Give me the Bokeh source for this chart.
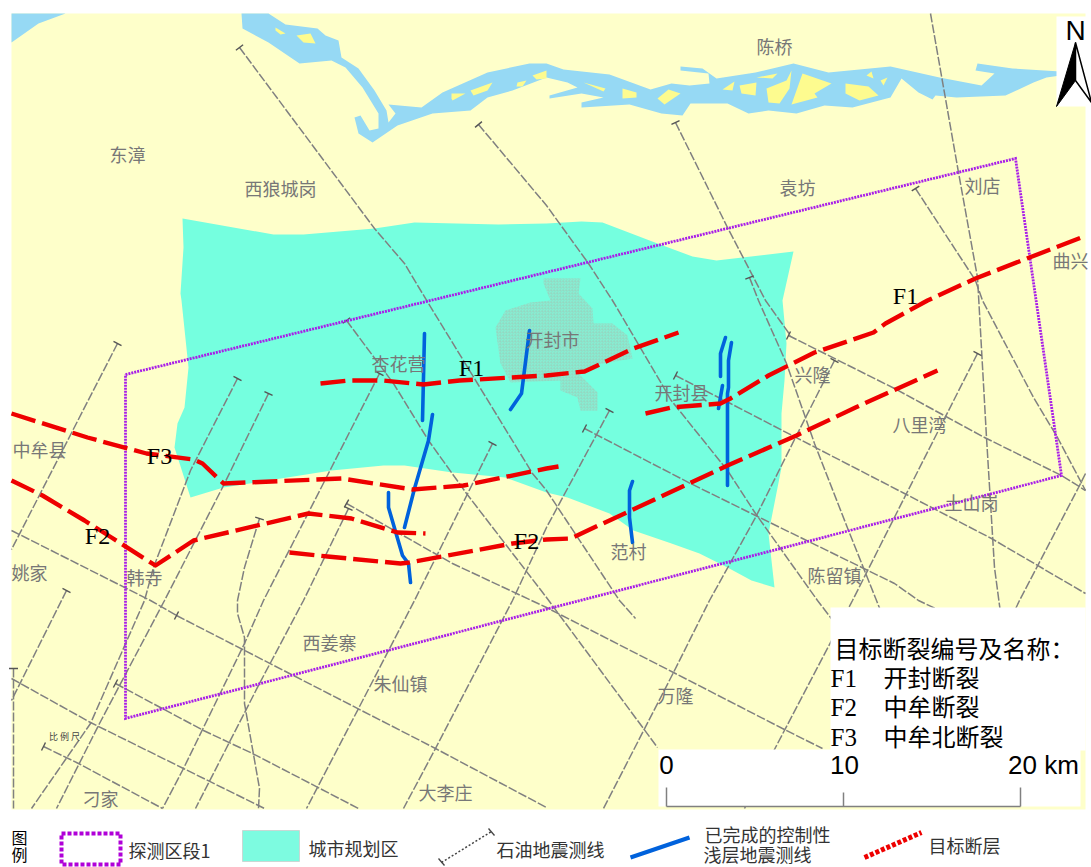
from bokeh.plotting import figure
from bokeh.models import Range1d
from bokeh.core.properties import value
from bokeh.embed import file_html
from bokeh.resources import INLINE
import math

W, H = 1091, 867

LAND = "#feffca"; WATER = "#96d9f4"; ISLE = "#fdfb8f"; CITY = "#75ffdf"
STIP = "#86eed3"; GREY = "#808080"; RED = "#ee0000"; BLUE = "#0062dc"; PURPLE = "#a81ee8"
CJK = value("Noto Sans CJK SC")

river = [(241,13),(268,13),(285,24),(317,28),(325,35),(338,40),(341,57),(358,68),(374,90),(386,110),(388,122),(395,113),(388,104),(421,107),(442,92),(487,72),(529,63),(546,63),(563,69),(609,74),(650,89),(671,83),(689,85),(709,83),(708,73),(680,70),(680,66),(702,68),(716,78),(755,72),(793,63),(828,72),(890,66),(939,77),(981,85),(994,73),(975,70),(977,63),(1012,68),(1060,71),(1060,75),(1046,77),(1033,82),(1005,95),(956,97),(935,95),(932,99),(918,92),(901,78),(890,97),(852,107),(824,105),(796,113),(768,110),(748,113),(727,103),(690,103),(682,115),(661,113),(629,104),(581,107),(581,102),(603,97),(581,93),(549,98),(549,95),(577,87),(567,82),(546,77),(512,90),(487,97),(470,110),(432,113),(397,125),(372,142),(358,133),(354,117),(360,115),(369,130),(378,128),(378,113),(362,87),(345,67),(331,60),(299,63),(268,42),(242,28)]
corner_water = [(11,13),(65,13),(38,23),(11,42)]
islands = [
 [(275,27),(285,33),(280,34),(275,30)], [(296,35),(310,33),(315,43),(303,42)],
 [(451,93),(465,93),(452,100),(451,98)], [(470,90),(492,82),(487,90),(473,95)],
 [(517,82),(526,80),(522,86),(516,86)], [(532,75),(546,70),(546,78),(536,79)],
 [(583,82),(605,88),(603,91)], [(622,88),(636,92),(636,97),(622,98)],
 [(657,98),(668,89),(680,93),(664,104)], [(722,89),(734,81),(732,90)],
 [(739,85),(756,82),(755,95),(741,93)], [(756,77),(777,73),(772,78)],
 [(766,88),(786,80),(791,70),(789,88),(779,103),(768,102)],
 [(802,73),(831,83),(814,93),(817,97),(791,104)],
 [(845,83),(868,86),(878,95),(859,100),(845,93)], [(866,75),(871,71),(873,78)],
 [(880,80),(887,77),(883,85)],
]
city = [(182,218),(273,234),(303,234),(374,228),(414,222),(498,224),(546,223),(581,221),(602,222),(657,243),(692,256),(716,260),(793,251),(782,300),(786,343),(784,380),(781,413),(781,467),(768,533),(774,587),(751,580),(727,567),(699,553),(671,543),(633,530),(609,513),(567,497),(546,492),(505,477),(452,472),(404,465),(383,465),(331,470),(223,487),(190,497),(174,447),(177,423),(184,407),(188,367),(181,300),(180,293),(183,247)]
urban = [(543,278),(580,278),(578,293),(592,308),(593,323),(612,323),(627,335),(632,358),(597,364),(577,372),(597,392),(597,410),(580,410),(577,397),(560,390),(560,380),(510,382),(500,363),(495,327),(505,310),(530,302),(550,300),(543,283)]

# seismic survey lines; ticked ones have an end tick at the first point
ticked = [
 [(239,47),(374,228),(404,263),(428,303),(477,383),(532,473),(546,490),(619,600),(635,618)],
 [(478,124),(546,205),(588,263),(612,300),(661,383),(670,399),(727,470),(755,513),(817,600),(840,630)],
 [(346,320),(393,383),(428,440),(466,493),(546,597),(657,747)],
 [(675,122),(727,227),(765,300),(790,335)],
 [(749,277),(758,300),(786,363),(814,443),(848,530),(876,600),(900,660)],
 [(915,188),(975,280),(982,300),(1033,397),(1057,437),(1085,490)],
 [(117,343),(11,549)],
 [(237,378),(190,470),(153,567),(144,600),(90,723),(31,808)],
 [(268,393),(223,485),(164,600),(99,723),(56,808)],
 [(379,373),(331,467),(263,600),(244,643),(183,768),(162,808)],
 [(259,518),(244,567),(237,600),(237,613),(244,637),(244,703),(259,788),(258,808)],
 [(348,508),(303,600),(259,683),(195,808)],
 [(492,443),(414,600),(358,708),(306,808)],
 [(609,410),(546,527),(512,600),(435,748),(403,808)],
 [(834,360),(795,437),(755,517),(709,600),(673,672),(603,808)],
 [(977,353),(906,493),(852,600),(775,747),(744,808)],
 [(788,335),(894,388),(984,437),(1061,475),(1085,490)],
 [(675,375),(730,403),(782,430),(904,493),(991,538),(1085,593)],
 [(584,428),(690,483),(755,515),(894,583),(918,600),(950,615)],
 [(346,503),(452,563),(546,607),(673,672),(782,728),(822,748)],
 [(176,615),(289,673),(435,748),(546,807)],
 [(115,683),(203,730),(252,753),(358,808)],
 [(43,746),(78,763),(162,808)],
 [(13,668),(13,808)],
 [(66,590),(11,700)],
]
plain = [
 [(930,13),(958,172),(977,277),(986,437),(994,567),(1005,650)],
 [(1085,473),(1078,487),(1019,600),(1000,640)],
 [(11,530),(150,600),(176,615)],
 [(11,678),(90,722),(183,768),(264,808)],
]
region = [(125,374),(1015,158),(1061,475),(125,718),(125,374)]

f1_west = [(320,383),(348,380),(383,380),(423,384),(459,380),(546,375),(584,371),(633,348),(678,332)]
f1_east = [(645,413),(671,407),(720,403),(730,398),(768,375),(814,352),(873,332),(885,323),(927,300),(975,278),(1029,257),(1081,237)]
f2_west = [(11,480),(42,495),(84,520),(111,537),(155,565),(193,540),(308,513),(351,518),(397,532),(425,533)]
f2_east = [(289,552),(327,556),(400,563),(409,562),(512,543),(546,539),(570,538),(626,512),(727,465),(796,435),(855,407),(937,370)]
f3 = [(11,413),(87,437),(146,453),(193,459),(202,463),(223,483),(341,478),(412,489),(463,485),(546,468),(558,466)]
faults = [f1_west, f1_east, f2_west, f2_east, f3]

shallow = [
 [(424,333),(422,420)],
 [(432,414),(428,440),(414,488),(404,527)],
 [(388,492),(388,507),(402,555),(408,563),(410,582)],
 [(529,330),(521,393),(510,409)],
 [(725,337),(720,353),(720,376)],
 [(731,342),(728,360),(728,387),(727,393),(727,485)],
 [(722,385),(718,408)],
 [(632,481),(629,490),(629,517),(632,542)],
]

places = ["陈桥","东漳","西狼城岗","袁坊","刘店","曲兴","杏花营","开封市","开封县","兴隆","八里湾","土山岗","范村","陈留镇","中牟县","韩寺","姚家","西姜寨","朱仙镇","万隆","大李庄","刁家"]
place_x = [774,127,280,797,982,1070,398,552,681,812,919,971,628,834,39,144,29,329,400,675,445,100]
place_y = [45,153,187,186,184,259,362,338,391,373,423,501,550,574,448,576,571,641,682,694,791,797]

fault_labels = ["F1","F1","F3","F2","F2"]
fault_label_x = [471,905,159,97,526]
fault_label_y = [367,295,455,535,540]

legend_title = "目标断裂编号及名称："
legend_codes = ["F1","F2","F3"]
legend_names = ["开封断裂","中牟断裂","中牟北断裂"]
legend_rows_y = [678,707,737]
legend_names_y = [676,705,735]

scale_labels = ["0","10","20 km"]
scale_x = [666,844,1043]
scale_ticks_x = [666,843,1020]
scale_ticks_top = [787,792,787]

key_texts = ["探测区段1","城市规划区","石油地震测线","已完成的控制性","浅层地震测线","目标断层"]
key_x = [128,308,496,704,703,928]
key_y = [849,847,848,833,853,844]

p = figure(width=W, height=H, x_range=Range1d(0, W), y_range=Range1d(H, 0),
           output_backend="svg", toolbar_location=None, min_border=0,
           background_fill_color="white", border_fill_color="white")
p.axis.visible = False
p.grid.visible = False
p.outline_line_color = None

def poly(pts, color, **kw):
    p.patch([a for a, b in pts], [b for a, b in pts], fill_color=color, line_color=kw.pop("line_color", None), **kw)

def path(pts, **kw):
    p.line([a for a, b in pts], [b for a, b in pts], **kw)

# base
p.quad(left=[11], right=[1085], top=[13], bottom=[809], fill_color=LAND, line_color=None)
poly(corner_water, WATER)
poly(river, WATER)
for isl in islands:
    poly(isl, ISLE)
poly(city, CITY)
poly(urban, STIP, hatch_pattern="criss_cross", hatch_color="#9ccdb9", hatch_scale=3, hatch_weight=0.5, hatch_alpha=0.6)

# survey lines
for ln in ticked + plain:
    path(ln, line_color=GREY, line_width=1.5, line_dash="9 2")
for ln in ticked:
    (x0, y0), (x1, y1) = ln[0], ln[1]
    d = math.hypot(x1-x0, y1-y0)
    nx, ny = -(y1-y0)/d*4.5, (x1-x0)/d*4.5
    p.line([x0-nx, x0+nx], [y0-ny, y0+ny], line_color="#555555", line_width=1.4)

path(region, line_color=PURPLE, line_width=2.8, line_dash="2 1", line_join="miter")

for ln in shallow:
    path(ln, line_color=BLUE, line_width=3.6, line_cap="round", line_join="round")
for ln in faults:
    path(ln, line_color=RED, line_width=4.4, line_dash="25 7", line_join="round")

# place names
p.text(place_x, place_y, text=places, text_font=CJK, text_font_size="18px", text_color="#777777",
       text_align="center", text_baseline="middle")
p.text([64], [736], text=["比 例 尺"], text_font=CJK, text_font_size="9px", text_color="#444444",
       text_align="center", text_baseline="middle")
p.text(fault_label_x, fault_label_y, text=fault_labels, text_font=value("Liberation Serif"), text_font_size="24px",
       text_color="black", text_align="center", text_baseline="middle")

# north arrow
p.quad(left=[1056], right=[1091], top=[16], bottom=[106], fill_color="white", line_color=None)
p.text([1075], [30], text=["N"], text_font=value("Liberation Sans"), text_font_size="28px", text_color="black",
       text_align="center", text_baseline="middle")
poly([(1075,42),(1075,80),(1056,106)], "black", line_color="black")
poly([(1075,42),(1075,80),(1091,102)], "white", line_color="black", line_width=1.5)

# white boxes
p.quad(left=[830], right=[1085], top=[607], bottom=[750], fill_color="white", line_color=None)
p.quad(left=[658], right=[1080], top=[749], bottom=[806], fill_color="white", line_color=None)
p.text([834], [647], text=[legend_title], text_font=CJK, text_font_size="24px", text_color="black",
       text_baseline="middle")
p.text([830]*3, legend_rows_y, text=legend_codes, text_font=value("Liberation Serif"), text_font_size="25px",
       text_color="black", text_baseline="middle")
p.text([883]*3, legend_names_y, text=legend_names, text_font=CJK, text_font_size="24px",
       text_color="black", text_baseline="middle")

# scale bar
p.text(scale_x, [764]*3, text=scale_labels, text_font=value("Liberation Sans"), text_font_size="26px",
       text_color="black", text_align="center", text_baseline="middle")
p.line(scale_ticks_x[::2], [806, 806], line_color=GREY, line_width=1.5)
for sx, st in zip(scale_ticks_x, scale_ticks_top):
    p.line([sx, sx], [st, 806], line_color=GREY, line_width=1.5)

# bottom key
p.text([19, 19], [836, 853], text=["图", "例"], text_font=CJK, text_font_size="16px", text_color="black",
       text_align="center", text_baseline="middle")
path([(61,833),(120,833),(120,864),(61,864),(61,833)], line_color="#b000d8", line_width=4, line_dash="4 2")
p.quad(left=[242], right=[299], top=[830], bottom=[861], fill_color="#7dfbe0", line_color="#c8d8d4")
path([(441,862),(491,831)], line_color="#444444", line_width=1.5, line_dash="2 2")
p.line([438, 444], [858, 865], line_color="#444444", line_width=1.3)
p.line([488, 494], [828, 835], line_color="#444444", line_width=1.3)
path([(630,857),(689,837)], line_color=BLUE, line_width=4)
path([(864,857),(921,832)], line_color=RED, line_width=5, line_dash="4 2")
p.text(key_x, key_y, text=key_texts, text_font=CJK, text_font_size="18px", text_color="#333333",
       text_baseline="middle")

open("out.html", "w").write(file_html(p, INLINE))
